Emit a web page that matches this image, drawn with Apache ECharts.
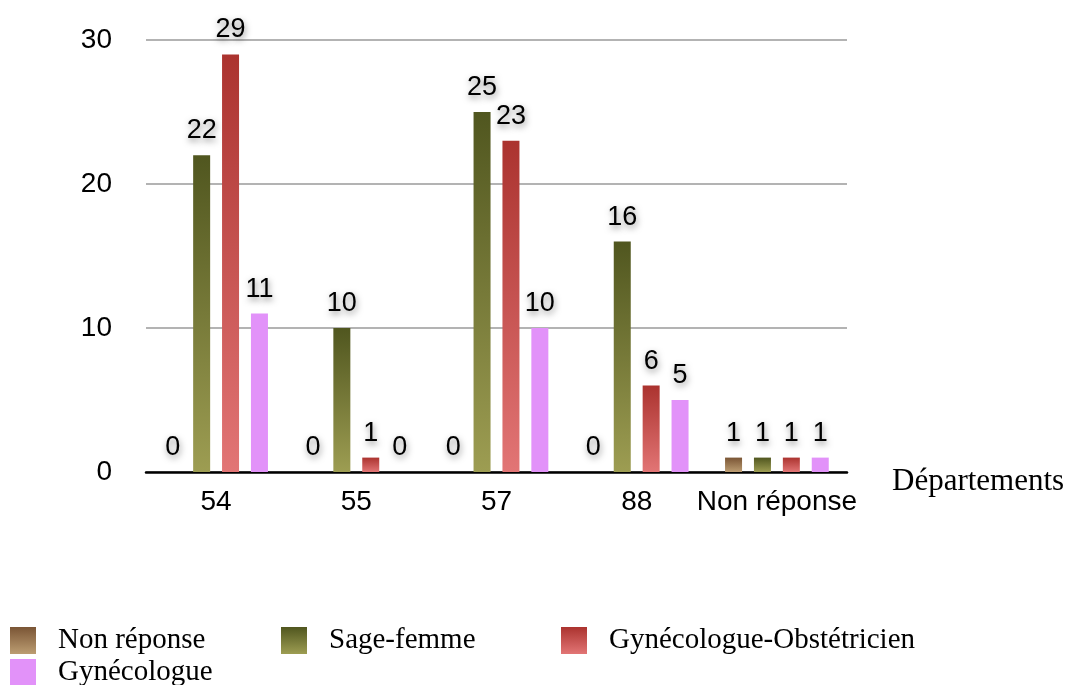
<!DOCTYPE html>
<html>
<head>
<meta charset="utf-8">
<script src="https://cdn.jsdelivr.net/npm/echarts@6/dist/echarts.min.js"></script>
<style>
  html, body { margin: 0; padding: 0; background: #fff; }
  #chart { width: 1071px; height: 685px; }
</style>
</head>
<body>
<div id="chart"></div>
<script>
// categories and values
var categories = ['54', '55', '57', '88', 'Non réponse']
var seriesNames = ['Non réponse', 'Sage-femme', 'Gynécologue-Obstétricien', 'Gynécologue']
var nonReponse = [0, 0, 0, 0, 1]
var sageFemme = [22, 10, 25, 16, 1]
var gynObst = [29, 1, 23, 6, 1]
var gynecologue = [11, 0, 10, 5, 1]
var yTicks = [0, 10, 20, 30]

var sans = 'Helvetica, Arial, "Liberation Sans", sans-serif'
var serif = '"Times New Roman", "Liberation Serif", serif'

function grad (top, bottom) {
  return new echarts.graphic.LinearGradient(0, 0, 0, 1, [
    { offset: 0, color: top },
    { offset: 1, color: bottom }
  ])
}

var colors = [
  grad('#7a5535', '#bc9d72'),
  grad('#50561f', '#9d9d52'),
  grad('#ab332f', '#e27575'),
  '#e292f9'
]

function bar (name, data, color) {
  return {
    name: name,
    type: 'bar',
    data: data,
    barWidth: 17,
    barGap: '70%',
    itemStyle: { color: color },
    label: {
      show: true,
      position: 'top',
      distance: 11,
      color: '#000',
      fontSize: 27,
      fontFamily: sans,
      textShadowColor: 'rgba(0,0,0,0.45)',
      textShadowBlur: 6,
      textShadowOffsetX: 1,
      textShadowOffsetY: 3
    }
  }
}

// one legend per item so they sit in fixed columns like the original
function legendItem (name, left, top) {
  return {
    data: [name],
    left: left,
    top: top,
    padding: 0,
    icon: 'rect',
    itemWidth: 26,
    itemHeight: 27,
    textStyle: { fontFamily: serif, fontSize: 29, color: '#000', padding: [0, 0, 0, 17] }
  }
}

var chart = echarts.init(document.getElementById('chart'))
chart.setOption({
  animation: false,
  grid: { left: 146, right: 224, top: 40, bottom: 213, containLabel: false },
  legend: [
    legendItem(seriesNames[0], 10, 626),
    legendItem(seriesNames[1], 281, 626),
    legendItem(seriesNames[2], 561, 626),
    legendItem(seriesNames[3], 10, 658)
  ],
  xAxis: {
    type: 'category',
    data: categories,
    name: 'Départements',
    nameLocation: 'end',
    nameGap: 45,
    nameTextStyle: {
      fontFamily: serif, fontSize: 31, color: '#000',
      align: 'left', verticalAlign: 'top', padding: [-6, 0, 0, 0]
    },
    axisLine: { lineStyle: { color: '#000', width: 2.5 } },
    axisTick: { show: false },
    axisLabel: { interval: 0, color: '#000', fontSize: 28, fontFamily: sans, margin: 16 }
  },
  yAxis: {
    type: 'value',
    min: yTicks[0],
    max: yTicks[yTicks.length - 1],
    interval: 10,
    axisLine: { show: false },
    axisTick: { show: false },
    axisLabel: { color: '#000', fontSize: 28, fontFamily: sans, margin: 34 },
    splitLine: { lineStyle: { color: '#b3b3b3', width: 2 } }
  },
  series: [
    bar(seriesNames[0], nonReponse, colors[0]),
    bar(seriesNames[1], sageFemme, colors[1]),
    bar(seriesNames[2], gynObst, colors[2]),
    bar(seriesNames[3], gynecologue, colors[3])
  ]
})
</script>
</body>
</html>
